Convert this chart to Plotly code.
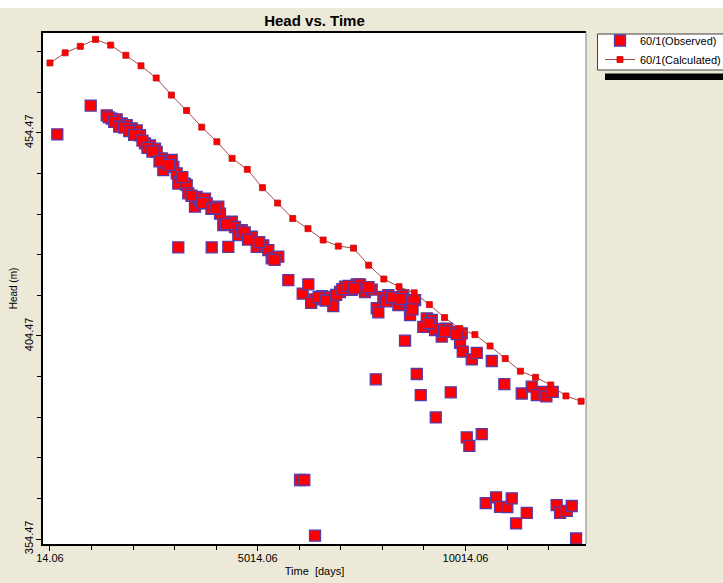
import plotly.graph_objects as go

# Observed heads: time [days], head [m]
obs_time = [190, 994, 1379, 1499, 1620, 1740, 1860, 1981, 2101, 2180, 2301, 2421, 2541, 2582,
            2703, 2741, 2823, 2943, 2982, 3064, 3143, 3102, 3264, 3304, 3343, 3504, 3545, 3625,
            3745, 3786, 4065, 4106, 4185, 4388, 4467, 4547, 4628, 4869, 4989, 5148, 5269, 5350,
            5509, 3102, 3906, 4306, 5750, 6096, 6231, 6393, 6554, 6737, 6833, 6994, 7115, 7276,
            7396, 7476, 7596, 7757, 7878, 7916, 8037, 8157, 8318, 8398, 8518, 8600, 8680, 8680,
            8800, 8559, 9081, 9202, 8999, 9281, 9442, 9563, 9722, 9924, 9883, 9948, 10165, 10285,
            10646, 7854, 8841, 8937, 9659, 9298, 10044, 10107, 10405, 10949, 11368, 11608, 11729,
            11888, 11960, 12114, 6032, 6135, 6393, 10501, 10749, 10846, 11021, 11127, 11231,
            11488, 12207, 12290, 12451, 12571, 12675,
            1430, 1560, 1680, 1800, 1920, 2040, 2240, 2360, 2480, 2650, 2880, 3200, 3420, 3680,
            3900, 4000, 4250, 4700, 4780, 5050, 5420, 6300, 6480, 6650, 6900, 7050, 7200, 7340,
            7680, 8100, 8240, 8460, 8740, 9140, 9380, 9500, 9800]
obs_head = [454.1, 461.2, 458.8, 458.0, 457.8, 456.8, 456.4, 455.6, 455.1, 453.9, 451.9, 451.4,
            450.6, 449.8, 448.2, 445.3, 446.9, 447.8, 446.1, 444.5, 442.4, 442.0, 442.0, 441.6,
            439.6, 436.3, 438.7, 437.9, 438.3, 437.1, 436.3, 434.6, 431.8, 432.6, 431.3, 429.3,
            430.5, 428.9, 426.4, 426.8, 425.6, 423.6, 424.0, 426.3, 426.3, 426.4, 418.2, 414.9,
            417.2, 413.5, 414.3, 414.1, 411.8, 415.3, 416.6, 415.8, 417.2, 417.2, 415.3, 415.9,
            411.3, 410.3, 414.1, 414.5, 413.5, 412.1, 414.5, 412.9, 411.2, 409.6, 413.3, 403.3,
            408.8, 408.4, 406.7, 405.9, 404.3, 406.3, 405.5, 405.1, 402.8, 400.6, 398.7, 400.3,
            398.3, 393.8, 395.1, 389.9, 390.6, 384.4, 379.5, 377.4, 380.3, 392.6, 390.3, 392.0,
            389.9, 390.7, 389.6, 390.7, 369.0, 369.0, 355.3, 363.3, 364.7, 362.4, 362.3, 364.5,
            358.3, 360.9, 362.8, 360.9, 361.4, 362.6, 354.6,
            458.3, 457.2, 456.0, 455.8, 454.9, 454.0, 452.6, 450.8, 449.9, 447.5, 446.6, 443.6,
            439.0, 437.2, 435.8, 435.9, 432.0, 430.0, 428.2, 427.6, 423.2, 412.6, 414.0, 413.2,
            414.6, 416.0, 416.8, 416.2, 416.5, 413.0, 414.0, 413.6, 411.0, 407.6, 406.2, 405.6,
            404.9]

# Calculated heads (yearly output)
calc_time = [14, 379, 744, 1110, 1475, 1840, 2205, 2570, 2936, 3301, 3666, 4031, 4397, 4762,
             5127, 5492, 5857, 6223, 6588, 6953, 7318, 7684, 8049, 8414, 8779, 9144, 9510, 9875,
             10240, 10605, 10970, 11336, 11701, 12066, 12431, 12796]
calc_head = [471.7, 474.2, 475.8, 477.5, 476.1, 473.6, 471.0, 468.0, 463.8, 460.0, 455.9, 452.3,
             448.2, 445.5, 441.0, 437.2, 433.4, 430.9, 428.1, 426.6, 426.1, 421.9, 418.5, 416.6,
             415.1, 412.2, 409.0, 406.3, 404.8, 402.0, 398.9, 395.8, 394.3, 392.4, 389.7, 388.4]

x_ticks = [14.06, 5014.06, 10014.06]
x_tick_labels = ["14.06", "5014.06", "10014.06"]
y_ticks = [354.47, 404.47, 454.47]
y_tick_labels = ["354.47", "404.47", "454.47"]

FONT = "Liberation Sans, Arial, sans-serif"
BG = "#ECE9D8"

fig = go.Figure()
fig.add_trace(go.Scatter(
    x=obs_time, y=obs_head, mode="markers", name="60/1(Observed)",
    marker=dict(symbol="square", size=11, color="#FF0000",
                line=dict(color="#5A3AA8", width=1.3)),
))
fig.add_trace(go.Scatter(
    x=calc_time, y=calc_head, mode="lines+markers", name="60/1(Calculated)",
    line=dict(color="#A84848", width=1),
    marker=dict(symbol="square", size=6, color="#FF0000",
                line=dict(color="#C01010", width=0.8)),
))

L, R, T, B = 43, 137, 33, 39
W, H = 723, 583
pw, ph = W - L - R, H - T - B

def px_x(p):
    return (p - L) / pw

def px_y(p):
    return 1 - (p - T) / ph

shapes = [
    # white strip at top of the window
    dict(type="rect", xref="paper", yref="paper", x0=px_x(0), x1=px_x(W), y0=px_y(8), y1=px_y(0),
         fillcolor="white", line=dict(width=0), layer="below"),
    # right border of plot
    dict(type="line", xref="paper", yref="paper", x0=1, x1=1, y0=0, y1=1,
         line=dict(color="#808080", width=1)),
    # legend box
    dict(type="rect", xref="paper", yref="paper", x0=px_x(597.5), x1=px_x(W + 5), y0=px_y(70), y1=px_y(34),
         fillcolor="white", line=dict(color="#404040", width=1)),
    # legend shadow bar
    dict(type="rect", xref="paper", yref="paper", x0=px_x(605), x1=px_x(W + 5), y0=px_y(80), y1=px_y(73.5),
         fillcolor="black", line=dict(width=0)),
]

fig.update_layout(
    width=W, height=H,
    margin=dict(l=L, r=R, t=T, b=B, autoexpand=False),
    paper_bgcolor=BG, plot_bgcolor="white",
    font=dict(family=FONT, size=11, color="black"),
    title=dict(text="<b>Head vs. Time</b>", x=314.5 / W, xanchor="center",
               y=1 - 21 / H, yanchor="middle", yref="container",
               font=dict(family=FONT, size=15, color="black")),
    showlegend=True,
    legend=dict(x=px_x(600), y=px_y(26), xanchor="left", yanchor="top",
                bgcolor="rgba(0,0,0,0)", borderwidth=0, font=dict(size=11),
                itemwidth=30, tracegroupgap=0),
    shapes=shapes,
    hovermode=False,
)

fig.update_xaxes(
    range=[-154, 12914], showgrid=False, zeroline=False,
    showline=True, linecolor="black", linewidth=2, mirror=True,
    tickmode="array", tickvals=x_ticks, ticktext=x_tick_labels,
    ticks="outside", ticklen=5, tickcolor="black", tickwidth=1,
    ticklabelstandoff=-2,
    minor=dict(tick0=14.06, dtick=1000, ticks="outside", ticklen=4, tickcolor="black", showgrid=False),
    title=dict(text="Time\u00a0 [days]", font=dict(size=11), standoff=4),
    tickfont=dict(size=11),
)
fig.update_yaxes(
    range=[353.24, 479.08], showgrid=False, zeroline=False,
    showline=True, linecolor="black", linewidth=2,
    tickmode="array", tickvals=y_ticks, ticktext=y_tick_labels, tickangle=-90,
    ticks="outside", ticklen=5, tickcolor="black", tickwidth=1,
    ticklabelstandoff=-1,
    minor=dict(tick0=354.47, dtick=10, ticks="outside", ticklen=4, tickcolor="black", showgrid=False),
    title=dict(text="Head (m)", font=dict(size=10), standoff=3),
    tickfont=dict(size=11),
)

fig.write_html("out.html")
